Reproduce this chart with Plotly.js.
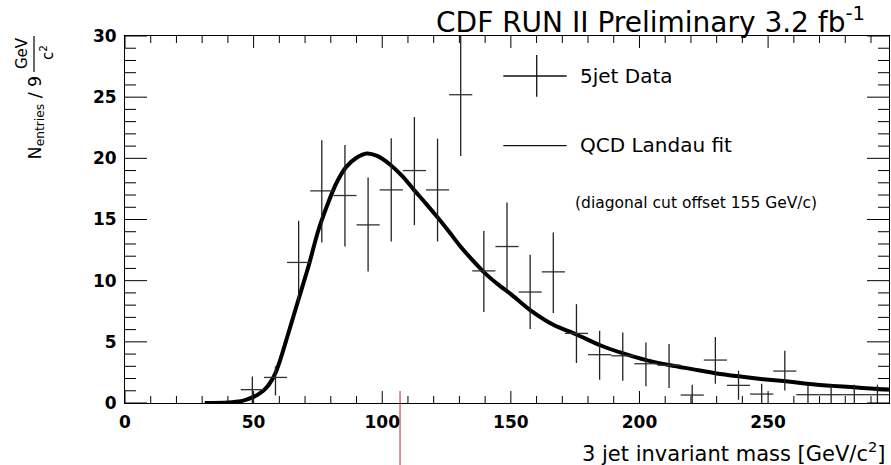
<!DOCTYPE html>
<html>
<head>
<meta charset="utf-8">
<script src="https://cdn.plot.ly/plotly-3.0.1.min.js"></script>
<style>
  html, body { margin: 0; padding: 0; background: #fff; }
  #chart { width: 891px; height: 465px; }
</style>
</head>
<body>
<div id="chart"></div>
<script>
// ---- data ----
const binCenters = [49.5, 58.5, 67.5, 76.5, 85.5, 94.5, 103.5, 112.5, 121.5, 130.5,
                    139.5, 148.5, 157.5, 166.5, 175.5, 184.5, 193.5, 202.5, 211.5, 220.5,
                    229.5, 238.5, 247.5, 256.5, 265.5, 274.5, 283.5, 292.5];
const counts = [1.09, 2.09, 11.49, 17.34, 16.96, 14.56, 17.42, 19.0, 17.42, 25.2,
                10.8, 12.79, 9.07, 10.72, 5.69, 3.95, 3.86, 3.21, 3.09, 0.65,
                3.51, 1.44, 0.73, 2.61, 0.68, 0.68, 0.68, 0.68];
const errUp = [1.08, 0.9, 3.4, 4.14, 4.14, 3.87, 4.22, 4.38, 4.19, 5.0,
               3.27, 3.59, 3.04, 3.21, 2.39, 1.95, 1.91, 1.74, 1.73, 0.85,
               1.88, 1.2, 0.85, 1.66, 0.82, 0.82, 0.82, 0.82];
const errDown = [1.09, 1.47, 3.32, 4.22, 4.17, 3.81, 4.22, 4.46, 4.22, 5.0,
                 3.37, 3.54, 3.03, 3.37, 2.42, 2.05, 2.04, 1.85, 1.87, 0.65,
                 1.93, 1.17, 0.73, 1.58, 0.68, 0.68, 0.68, 0.68];
const binHalfWidth = 4.5;

const fitX = [31, 40, 45, 47.5, 50, 52.5, 55, 57, 58.5, 60, 61.5, 63, 65, 68, 71.5, 75, 78.5, 82, 86, 90, 94, 98,
              103, 108, 112, 117, 121, 126, 130, 135, 140, 145, 150, 157.5, 166.5, 175.5,
              185, 194, 203, 212, 221, 230, 240, 248, 257, 266, 275, 283.5, 290, 297];
const fitY = [0, 0.05, 0.15, 0.3, 0.5, 0.8, 1.25, 1.85, 2.45, 3.3, 4.3, 5.35, 6.75, 8.85, 11.3, 14.0, 16.1, 17.9, 19.3, 20.05, 20.4, 20.2,
              19.5, 18.5, 17.5, 16.3, 15.3, 14.0, 12.9, 11.7, 10.6, 9.7, 8.9, 7.6, 6.4, 5.6,
              4.7, 4.03, 3.48, 3.08, 2.75, 2.42, 2.15, 1.95, 1.77, 1.55, 1.4, 1.28, 1.18, 1.1];

const xRange = [0, 297];
const yRange = [0, 30];
const xTickVals = [0, 50, 100, 150, 200, 250];
const yTickVals = [0, 5, 10, 15, 20, 25, 30];
const xMinorVals = [10, 20, 30, 40, 60, 70, 80, 90, 110, 120, 130, 140, 160, 170, 180, 190,
                    210, 220, 230, 240, 260, 270, 280, 290];
const yMinorVals = [1, 2, 3, 4, 6, 7, 8, 9, 11, 12, 13, 14, 16, 17, 18, 19, 21, 22, 23, 24,
                    26, 27, 28, 29];

const titleText = 'CDF RUN II Preliminary 3.2 fb<sup>-1</sup>';
const xTitleText = '3 jet invariant mass [GeV/c<sup>2</sup>]';
const legendData = '5jet Data';
const legendFit = 'QCD Landau fit';
const noteText = '(diagonal cut offset 155 GeV/c)';

// ---- traces ----
const dataTrace = {
  type: 'scatter', mode: 'markers',
  x: binCenters, y: counts,
  marker: { size: 1, color: '#222' },
  error_y: { type: 'data', symmetric: false, array: errUp, arrayminus: errDown,
             color: '#222', thickness: 1.3, width: 0 },
  error_x: { type: 'constant', value: binHalfWidth, color: '#333', thickness: 1.3, width: 0 },
  showlegend: false, hoverinfo: 'skip'
};
const fitTrace = {
  type: 'scatter', mode: 'lines',
  x: fitX, y: fitY,
  line: { color: '#000', width: 4, shape: 'spline', smoothing: 0.8 },
  showlegend: false, hoverinfo: 'skip'
};

const F = 'DejaVu Sans, Liberation Sans, Arial, sans-serif';

// plot-area size in px (for tick lengths expressed in paper units)
const W = 891 - 125 - 2, H = 465 - 36 - 62;

// tick marks as shapes on the axis scales (inside, mirrored on both sides)
const tickShapes = [];
function yTick(v, len) {
  const f = len / W;
  tickShapes.push({ type: 'line', xref: 'paper', yref: 'y', x0: 0, x1: f, y0: v, y1: v,
                    line: { color: '#000', width: 1 } });
  tickShapes.push({ type: 'line', xref: 'paper', yref: 'y', x0: 1 - f, x1: 1, y0: v, y1: v,
                    line: { color: '#000', width: 1 } });
}
function xTick(v, len) {
  const f = len / H;
  tickShapes.push({ type: 'line', xref: 'x', yref: 'paper', x0: v, x1: v, y0: 0, y1: f,
                    line: { color: '#000', width: 1 } });
  tickShapes.push({ type: 'line', xref: 'x', yref: 'paper', x0: v, x1: v, y0: 1 - f, y1: 1,
                    line: { color: '#000', width: 1 } });
}
yTickVals.forEach(v => yTick(v, 22));
yMinorVals.forEach(v => yTick(v, 11));
xTickVals.forEach(v => xTick(v, 12));
xMinorVals.forEach(v => xTick(v, 7));

const axisCommon = {
  showgrid: false, zeroline: false, showline: true, linecolor: '#000', linewidth: 1,
  mirror: true, ticks: '', tickmode: 'array',
  tickfont: { family: F, size: 17, color: '#000', weight: 'bold' }
};

const layout = {
  width: 891, height: 465,
  margin: { l: 125, r: 2, t: 36, b: 62 },
  paper_bgcolor: '#fff', plot_bgcolor: '#fff',
  font: { family: F, size: 16, color: '#000' },
  title: { text: titleText, xref: 'paper', x: 0.9686, xanchor: 'right',
           yref: 'container', y: 0.953, yanchor: 'middle',
           font: { family: F, size: 28, color: '#000' } },
  xaxis: Object.assign({}, axisCommon, {
    range: xRange, tickvals: xTickVals, ticktext: xTickVals.map(String), ticklabelstandoff: 4
  }),
  yaxis: Object.assign({}, axisCommon, {
    range: yRange, tickvals: yTickVals, ticktext: yTickVals.map(String), ticklabelstandoff: 4
  }),
  shapes: tickShapes.concat([
    // legend cross
    { type: 'line', xref: 'paper', yref: 'paper', x0: 0.4952, x1: 0.5781, y0: 0.891, y1: 0.891,
      line: { color: '#111', width: 1.3 } },
    { type: 'line', xref: 'paper', yref: 'paper', x0: 0.5389, x1: 0.5389, y0: 0.8346, y1: 0.9482,
      line: { color: '#111', width: 1.3 } },
    // legend fit line
    { type: 'line', xref: 'paper', yref: 'paper', x0: 0.4952, x1: 0.5781, y0: 0.7011, y1: 0.7011,
      line: { color: '#111', width: 1.3 } },
    // fraction bar of y title
    { type: 'line', xref: 'paper', yref: 'paper', x0: -0.1191, x1: -0.1191, y0: 0.9019, y1: 1.0,
      line: { color: '#000', width: 1.2 } },
    // red marker line below the axis
    { type: 'line', xref: 'paper', yref: 'paper', x0: 0.36, x1: 0.36, y0: 0.0327, y1: -0.17,
      line: { color: '#b02a2a', width: 1 } }
  ]),
  annotations: [
    { text: xTitleText, xref: 'paper', yref: 'paper', x: 0.9987, y: -0.1327,
      xanchor: 'right', yanchor: 'middle', showarrow: false,
      font: { family: F, size: 21, color: '#000' } },
    { text: legendData, xref: 'paper', yref: 'paper', x: 0.5929, y: 0.891,
      xanchor: 'left', yanchor: 'middle', showarrow: false,
      font: { family: F, size: 20, color: '#000' } },
    { text: legendFit, xref: 'paper', yref: 'paper', x: 0.5929, y: 0.703,
      xanchor: 'left', yanchor: 'middle', showarrow: false,
      font: { family: F, size: 20, color: '#000' } },
    { text: noteText, xref: 'paper', yref: 'paper', x: 0.586, y: 0.5458,
      xanchor: 'left', yanchor: 'middle', showarrow: false,
      font: { family: F, size: 15.5, color: '#000' } },
    // y-axis title pieces
    { text: 'N<sub>entries</sub> / 9', xref: 'paper', yref: 'paper', x: -0.1165, y: 0.778,
      xanchor: 'center', yanchor: 'middle', textangle: -90, showarrow: false,
      font: { family: F, size: 17.5, color: '#000' } },
    { text: 'GeV', xref: 'paper', yref: 'paper', x: -0.1348, y: 0.9537,
      xanchor: 'center', yanchor: 'middle', textangle: -90, showarrow: false,
      font: { family: F, size: 15, color: '#000' } },
    { text: 'c<sup>2</sup>', xref: 'paper', yref: 'paper', x: -0.1021, y: 0.9564,
      xanchor: 'center', yanchor: 'middle', textangle: -90, showarrow: false,
      font: { family: F, size: 15, color: '#000' } }
  ]
};

Plotly.newPlot('chart', [fitTrace, dataTrace], layout, { staticPlot: true, displayModeBar: false });
</script>
</body>
</html>
